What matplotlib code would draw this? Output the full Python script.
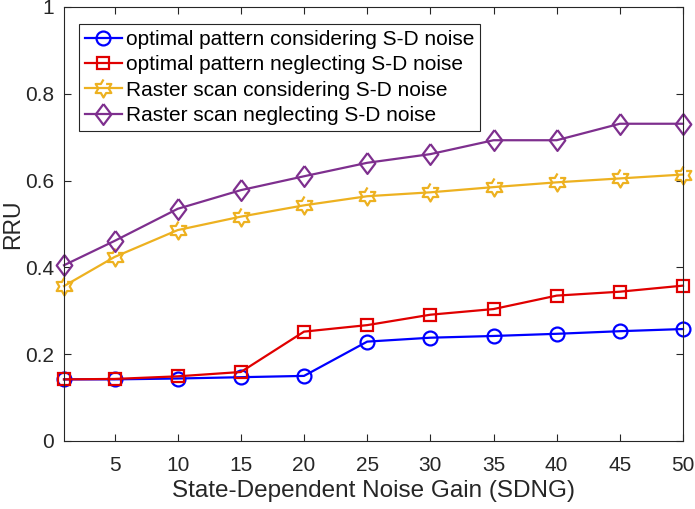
import numpy as np
import matplotlib.pyplot as plt
from matplotlib.path import Path

plt.rcParams['font.family'] = ['Liberation Sans', 'DejaVu Sans']

# data
sdng = [1, 5, 10, 15, 20, 25, 30, 35, 40, 45, 50]
opt_consider = [0.142, 0.142, 0.144, 0.147, 0.150, 0.229, 0.238, 0.242, 0.247, 0.253, 0.258]
opt_neglect = [0.142, 0.143, 0.149, 0.159, 0.252, 0.267, 0.291, 0.304, 0.335, 0.344, 0.358]
raster_consider = [0.357, 0.424, 0.486, 0.517, 0.543, 0.564, 0.573, 0.585, 0.596, 0.605, 0.614]
raster_neglect = [0.405, 0.461, 0.535, 0.578, 0.610, 0.641, 0.661, 0.693, 0.693, 0.731, 0.731]
labels = ['optimal pattern considering S-D noise',
          'optimal pattern neglecting S-D noise',
          'Raster scan considering S-D noise',
          'Raster scan neglecting S-D noise']

# MATLAB style hexagram and diamond markers
ang = np.deg2rad(90 + 30 * np.arange(12))
rad = np.where(np.arange(12) % 2 == 0, 1.0, 1 / np.sqrt(3))
hexagram = Path(np.column_stack([rad * np.cos(ang), rad * np.sin(ang)]))
diamond = Path([(0, 1), (0.75, 0), (0, -1), (-0.75, 0), (0, 1)])

fig = plt.figure(figsize=(6.95, 5.09), dpi=100)
ax = fig.add_axes([64 / 695, 68 / 509, 619 / 695, 434 / 509])

kw = dict(lw=1.6, mew=1.6, mfc='none', clip_on=False)
ax.plot(sdng, opt_consider, color='#0000ff', marker='o', ms=10, label=labels[0], **kw)
ax.plot(sdng, opt_neglect, color='#e00000', marker='s', ms=8.5, label=labels[1], **kw)
ax.plot(sdng, raster_consider, color='#edb120', marker=hexagram, ms=13, label=labels[2], **kw)
ax.plot(sdng, raster_neglect, color='#7e2f8e', marker=diamond, ms=15, label=labels[3], **kw)

ax.set_xlim(1, 50)
ax.set_ylim(0, 1)
ax.set_xticks([5, 10, 15, 20, 25, 30, 35, 40, 45, 50])
ax.set_yticks([0, 0.2, 0.4, 0.6, 0.8, 1])
ax.set_yticklabels(['0', '0.2', '0.4', '0.6', '0.8', '1'])
ax.tick_params(direction='in', top=True, right=True, labelsize=15,
               colors='#262626', length=5, width=0.8)
ax.tick_params(axis='x', pad=10.5)
ax.tick_params(axis='y', pad=7)
for s in ax.spines.values():
    s.set_color('#262626')
    s.set_linewidth(0.8)

ax.set_xlabel('State-Dependent Noise Gain (SDNG)', fontsize=17.5, color='#262626', labelpad=4)
ax.set_ylabel('RRU', fontsize=16.5, color='#262626', labelpad=1)

leg = ax.legend(loc='upper left', bbox_to_anchor=(0.024, 0.961), fontsize=15,
                frameon=True, fancybox=False, edgecolor='#262626', framealpha=1,
                handlelength=1.75, handletextpad=0.2, borderpad=0.3, labelspacing=0.3,
                borderaxespad=0)
leg.get_frame().set_linewidth(0.8)

fig.savefig('out.png', dpi=100)
